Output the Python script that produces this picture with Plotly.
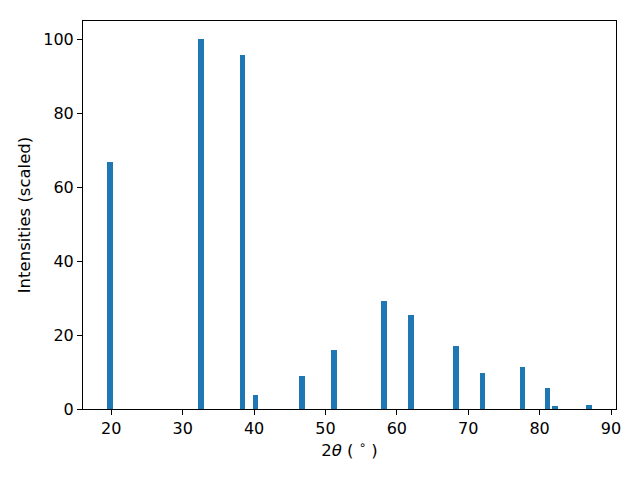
import plotly.graph_objects as go

two_theta = [19.8, 32.6, 38.4, 40.2, 46.7, 51.2, 58.2, 62.0, 68.3, 72.0, 77.6, 81.1, 82.2, 86.9]
intensity = [66.9, 100.0, 95.7, 3.7, 8.9, 15.9, 29.2, 25.4, 17.0, 9.7, 11.3, 5.6, 0.7, 1.0]
x_ticks = [20, 30, 40, 50, 60, 70, 80, 90]
y_ticks = [0, 20, 40, 60, 80, 100]

fig = go.Figure(go.Bar(x=two_theta, y=intensity, width=0.8,
                       marker=dict(color="#1f77b4", line=dict(width=0))))

font = "DejaVu Sans, sans-serif"
axis_common = dict(showline=True, linecolor="black", linewidth=1, mirror=True,
                   ticks="outside", ticklen=5, tickwidth=1, tickcolor="black",
                   showgrid=False, zeroline=False,
                   tickfont=dict(family=font, size=16, color="black"))

# page body has an 8px margin, so the figure is 8px smaller and margins compensated
fig.update_layout(
    width=632, height=472,
    margin=dict(l=75, r=24, t=13, b=71),
    plot_bgcolor="white", paper_bgcolor="white",
    showlegend=False,
    bargap=0,
    xaxis=dict(range=[16.04, 90.7], tickvals=x_ticks,
               title=dict(text="2<i>θ</i> ( <sup>∘</sup> )", font=dict(family=font, size=16.5, color="black"), standoff=6),
               **axis_common),
    yaxis=dict(range=[0, 105], tickvals=y_ticks,
               title=dict(text="Intensities (scaled)", font=dict(family=font, size=16.5, color="black"), standoff=8),
               **axis_common),
)

fig.write_html("out.html")
